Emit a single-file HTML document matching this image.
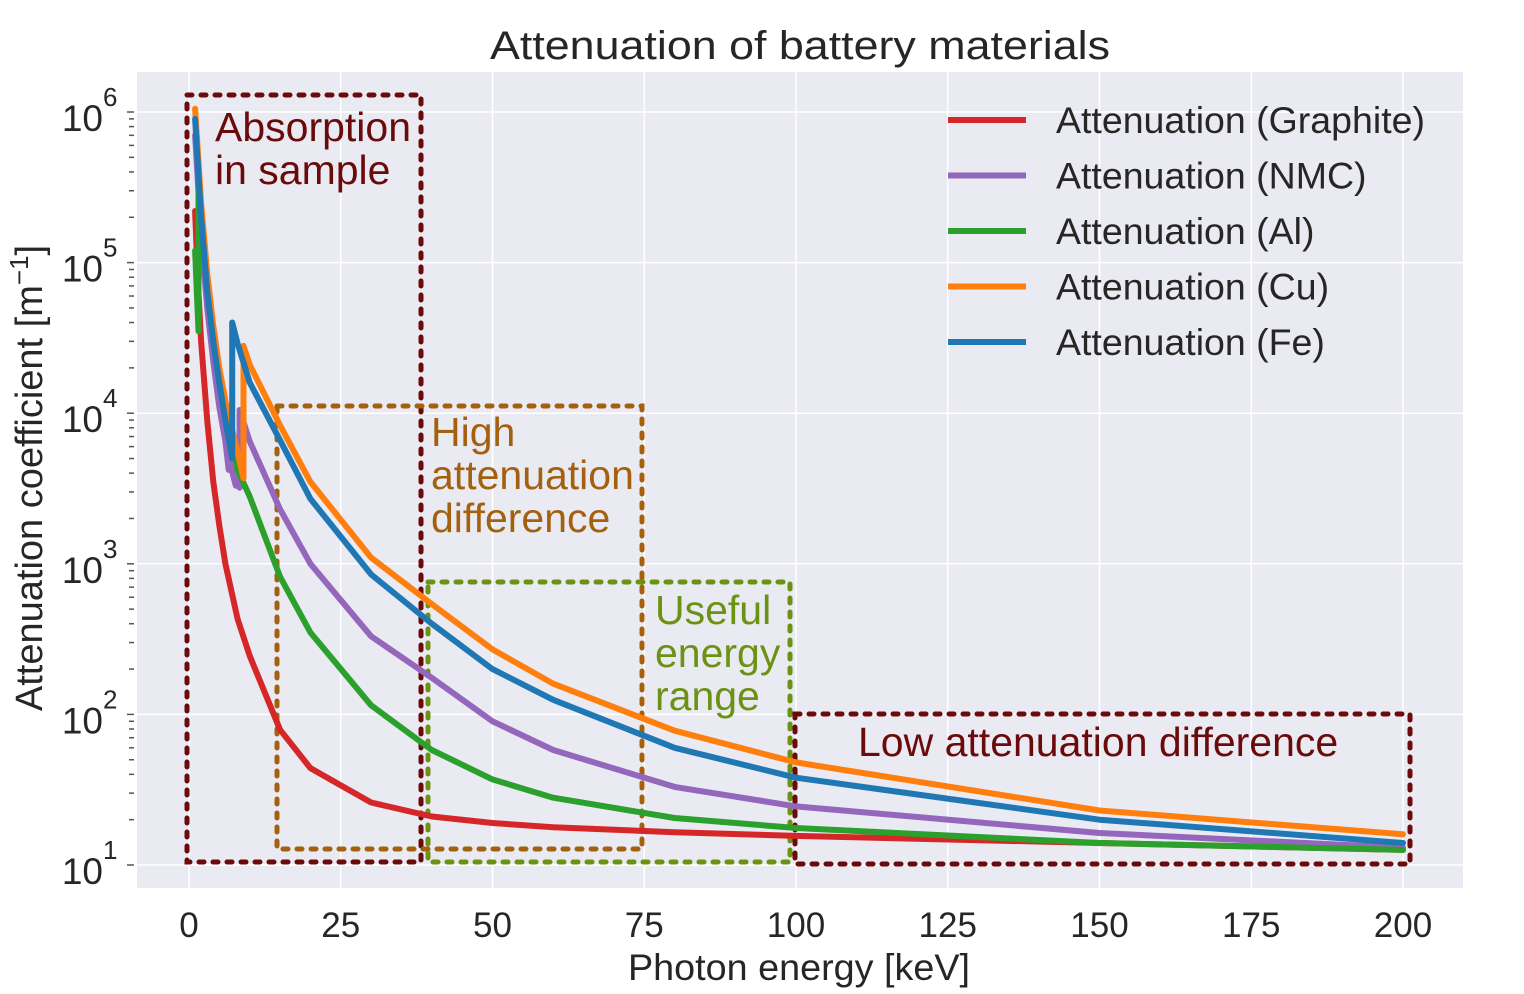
<!DOCTYPE html>
<html><head><meta charset="utf-8"><style>
body{margin:0;background:#fff;}
svg{display:block;font-family:"Liberation Sans","DejaVu Sans",sans-serif;}
</style></head><body>
<svg id="chart" width="1524" height="994" viewBox="0 0 1524 994">
<rect x="137" y="72" width="1326" height="816" fill="#eaeaf2"/>
<g id="grid"></g>
<g id="boxes"></g>
<g id="lines"></g>
<g id="axes"></g>
<text x="800" y="59" font-size="40" text-anchor="middle" fill="#262626" textLength="620" lengthAdjust="spacingAndGlyphs">Attenuation of battery materials</text>
<text x="799" y="980" font-size="37" text-anchor="middle" fill="#262626" textLength="342" lengthAdjust="spacingAndGlyphs">Photon energy [keV]</text>
<text transform="translate(42,478) rotate(-90)" font-size="38" text-anchor="middle" fill="#262626">Attenuation coefficient [m<tspan dy="-14" font-size="26">−1</tspan><tspan dy="14">]</tspan></text>
<g id="legend"></g>
</svg>
<script>
const xTicks=[0,25,50,75,100,125,150,175,200];
const yTicks=[1,2,3,4,5,6];
const seriesNames=["Graphite","NMC","Al","Cu","Fe"];
const seriesColors=["#d62728","#9467bd","#2ca02c","#ff7f0e","#1f77b4"];
const graphiteE=[1,1.5,2,3,4,5,6,8,10,15,20,30,40,50,60,80,100,150,200];
const graphiteV=[2.2e5,7e4,3e4,9e3,3.5e3,1.8e3,1e3,430,245,79,44,26,21,19,17.8,16.5,15.6,14,12.6];
const nmcE=[1,2,3,4,5,6,6.54,6.54,7.71,7.71,8.33,8.33,10,15,20,30,40,50,60,80,100,150,200];
const nmcV=[7e5,1.5e5,5e4,2.2e4,1.1e4,6.5e3,4.2e3,5e3,3.3e3,4e3,3.2e3,1.05e4,6.5e3,2.3e3,1e3,330,175,90,58,33,24.5,16.3,13];
const alE=[1,1.56,1.56,2,3,4,5,6,8,10,15,20,30,40,50,60,80,100,150,200];
const alV=[1.2e5,3.5e4,4e5,2e5,7e4,3e4,1.6e4,9.5e3,4.2e3,2.8e3,820,350,115,58,37,28,20.5,17.6,14,12.6];
const cuE=[1,2,3,4,5,6,8,8.98,8.98,10,15,20,30,40,50,60,80,100,150,200];
const cuV=[1.05e6,2.5e5,8.5e4,3.8e4,2e4,1.2e4,5.5e3,3.7e3,2.8e4,2.1e4,8.3e3,3.5e3,1.1e3,540,270,160,78,48,23,16];
const feE=[1,2,3,4,5,6,7.11,7.11,8,10,15,20,30,40,50,60,80,100,150,200];
const feV=[9e5,2e5,6.5e4,3e4,1.6e4,9e3,5e3,4e4,2.9e4,1.6e4,6.6e3,2.7e3,850,400,200,125,60,38,20,14];
const seriesE=[graphiteE,nmcE,alE,cuE,feE];
const seriesV=[graphiteV,nmcV,alV,cuV,feV];

const NS="http://www.w3.org/2000/svg";
const X0=189,XS=(1403-189)/200,Y1=865,YS=150.6;
function xs(v){return X0+v*XS;}
function ys(v){return Y1-(Math.log10(v)-1)*YS;}
function mk(tag,attrs,parent){const e=document.createElementNS(NS,tag);for(const k in attrs)e.setAttribute(k,attrs[k]);parent.appendChild(e);return e;}

const grid=document.getElementById('grid'),axes=document.getElementById('axes');
xTicks.forEach(t=>{
  const l=mk('line',{x1:xs(t),x2:xs(t),y1:72,y2:888,stroke:'#fff','stroke-width':1.5},grid);
  
  
  const tx=mk('text',{x:xs(t),y:937,'font-size':35,'text-anchor':'middle',fill:'#262626'},axes);
  tx.textContent=t;
  
  
});
yTicks.forEach(p=>{
  const y=ys(Math.pow(10,p));
  const l=mk('line',{x1:137,x2:1463,y1:y,y2:y,stroke:'#fff','stroke-width':1.5},grid);
  
  
  const tx=mk('text',{x:103,y:y+19,'font-size':37,'text-anchor':'end',fill:'#262626'},axes);
  tx.textContent='10';
  
  
  const sp=mk('text',{x:103,y:y-6,'font-size':26,fill:'#262626'},axes);
  sp.textContent=p;
  
  
  for(let m=2;m<=9;m++){
    const yy=ys(Math.pow(10,p)*m);
    if(yy<72)continue;
    const mt=mk('line',{x1:129,x2:134,y1:yy,y2:yy,stroke:'#555','stroke-width':1.5},axes);
    
    
  }
  const mt=mk('line',{x1:127,x2:134,y1:y,y2:y,stroke:'#555','stroke-width':1.5},axes);
  
  
});

const lines=document.getElementById('lines');
seriesNames.forEach((n,i)=>{
  const d=seriesE[i].map((e,j)=>(j?'L':'M')+xs(e).toFixed(1)+','+ys(seriesV[i][j]).toFixed(1)).join(' ');
  const p=mk('path',{d:d,fill:'none',stroke:seriesColors[i],'stroke-width':6,'stroke-linejoin':'round','stroke-linecap':'round'},lines);
  
  
});

const boxes=document.getElementById('boxes');
const boxDefs=[
 ['absorption-box',187,95,421,862,'#6b0a0a',['Absorption','in sample'],215,141,43],
 ['high-attenuation-box',277,406,642,849,'#a3610f',['High','attenuation','difference'],431,446,43],
 ['useful-energy-box',428,582,790,862,'#6b9212',['Useful','energy','range'],655,624,43],
 ['low-attenuation-box',795,714,1410,864,'#6b0a0a',['Low attenuation difference'],858,756,0]
];
boxDefs.forEach(b=>{
  const r=mk('rect',{x:b[1],y:b[2],width:b[3]-b[1],height:b[4]-b[2],fill:'none',stroke:b[5],'stroke-width':5,'stroke-dasharray':'5 9','stroke-linecap':'round'},boxes);
  
  
  b[6].forEach((s,k)=>{
    const t=mk('text',{x:b[7],y:b[8]+k*b[9],'font-size':41,fill:b[5]},boxes);
    t.textContent=s;
    
    
  });
});

const legend=document.getElementById('legend');
seriesNames.forEach((n,i)=>{
  const y=120+i*55.5;
  const l=mk('line',{x1:948,x2:1026,y1:y,y2:y,stroke:seriesColors[i],'stroke-width':6},legend);
  
  
  const t=mk('text',{x:1056,y:y+13,'font-size':37.5,fill:'#262626'},legend);
  t.textContent='Attenuation ('+n+')';
  
  
});
</script>
</body></html>
